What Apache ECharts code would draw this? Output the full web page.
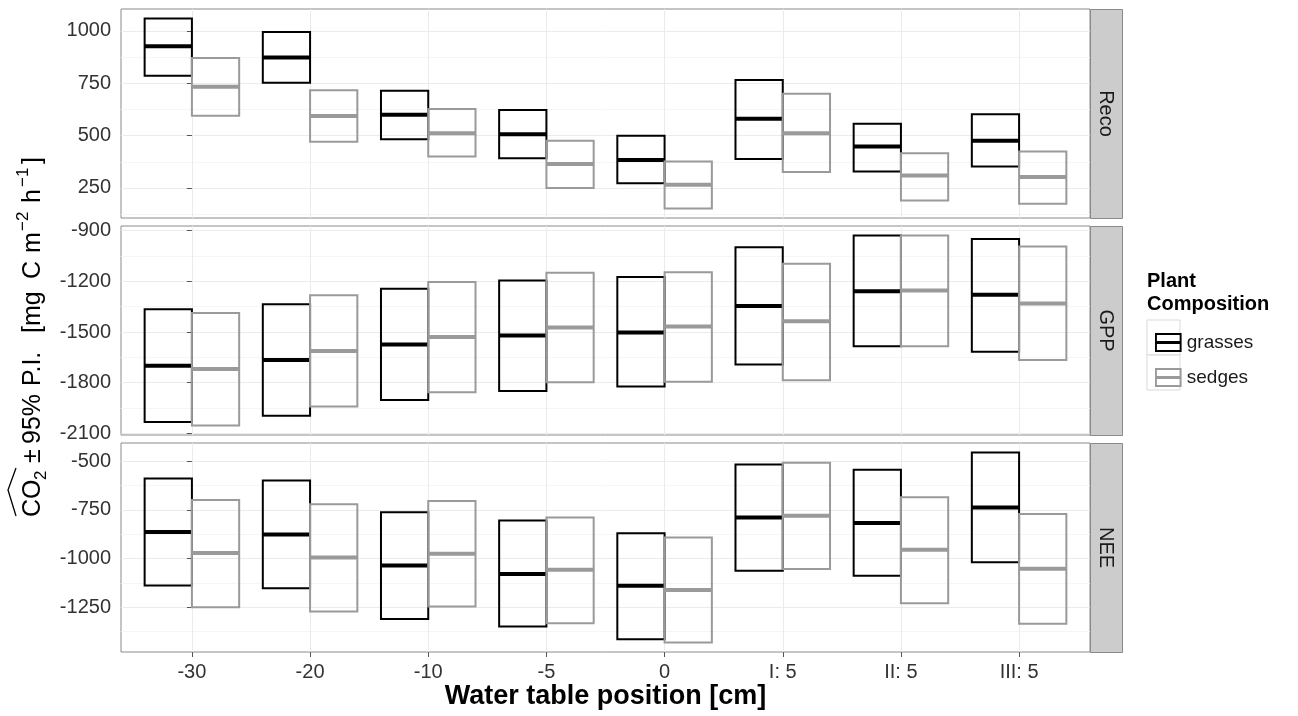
<!DOCTYPE html>
<html>
<head>
<meta charset="utf-8">
<title>CO2 fluxes by water table position</title>
<script src="https://cdn.jsdelivr.net/npm/echarts@6.0.0/dist/echarts.min.js"></script>
<style>
  html, body { margin: 0; padding: 0; background: #ffffff; }
  #chart { width: 1298px; height: 716px; }
</style>
</head>
<body>
<div id="chart"></div>
<script>
// Water table treatments along the x axis
const categories = ['-30', '-20', '-10', '-5', '0', 'I: 5', 'II: 5', 'III: 5'];
const groups = ['grasses', 'sedges'];
const facets = ['Reco', 'GPP', 'NEE'];

// Reco: estimate with lower / upper 95% prediction interval
const recoGrassesLower = [786, 752, 483, 392, 273, 388, 329, 352];
const recoGrassesEstimate = [927, 873, 599, 507, 384, 580, 448, 476];
const recoGrassesUpper = [1059, 995, 714, 622, 499, 765, 556, 602];
const recoSedgesLower = [595, 471, 400, 250, 152, 326, 190, 175];
const recoSedgesEstimate = [733, 594, 511, 364, 265, 511, 310, 302];
const recoSedgesUpper = [871, 716, 627, 476, 376, 700, 416, 424];

// GPP
const gppGrassesLower = [-2033, -1996, -1902, -1849, -1823, -1692, -1584, -1617];
const gppGrassesEstimate = [-1700, -1666, -1574, -1521, -1503, -1346, -1259, -1279];
const gppGrassesUpper = [-1366, -1336, -1244, -1195, -1175, -998, -929, -949];
const gppSedgesLower = [-2053, -1941, -1857, -1797, -1794, -1786, -1584, -1666];
const gppSedgesEstimate = [-1719, -1613, -1529, -1473, -1468, -1436, -1254, -1332];
const gppSedgesUpper = [-1387, -1283, -1204, -1149, -1146, -1096, -929, -994];

// NEE
const neeGrassesLower = [-1139, -1152, -1311, -1349, -1414, -1063, -1089, -1019];
const neeGrassesEstimate = [-864, -877, -1036, -1080, -1140, -790, -818, -738];
const neeGrassesUpper = [-589, -600, -762, -805, -870, -517, -545, -456];
const neeSedgesLower = [-1250, -1272, -1246, -1332, -1431, -1054, -1229, -1335];
const neeSedgesEstimate = [-972, -995, -976, -1058, -1162, -781, -955, -1053];
const neeSedgesUpper = [-700, -721, -705, -790, -892, -509, -685, -771];

// Tick labels of each facet (major) and the light lines between them (minor)
const recoTicks = [250, 500, 750, 1000];
const recoMinor = [125, 375, 625, 875];
const gppTicks = [-2100, -1800, -1500, -1200, -900];
const gppMinor = [-1950, -1650, -1350, -1050];
const neeTicks = [-1250, -1000, -750, -500];
const neeMinor = [-1375, -1125, -875, -625];

// ---- assembly ----
const FONT = '"Liberation Sans", Arial, Helvetica, sans-serif';
const PANEL_LEFT = 121, PANEL_W = 969, PANEL_H = 209;
const PANEL_TOPS = [9, 226, 443];
const STRIP_W = 32;
const COLORS = { grasses: '#000000', sedges: '#9a9a9a' };
const OFFSETS = { grasses: -0.2, sedges: 0.2 };
const HALF_W = 0.2;

const facetData = [
  { grasses: [recoGrassesLower, recoGrassesEstimate, recoGrassesUpper],
    sedges: [recoSedgesLower, recoSedgesEstimate, recoSedgesUpper],
    ticks: recoTicks, minor: recoMinor },
  { grasses: [gppGrassesLower, gppGrassesEstimate, gppGrassesUpper],
    sedges: [gppSedgesLower, gppSedgesEstimate, gppSedgesUpper],
    ticks: gppTicks, minor: gppMinor },
  { grasses: [neeGrassesLower, neeGrassesEstimate, neeGrassesUpper],
    sedges: [neeSedgesLower, neeSedgesEstimate, neeSedgesUpper],
    ticks: neeTicks, minor: neeMinor }
];

// Free y scale per facet, padded by 5% of the data range on both ends
function paddedRange(fd) {
  const all = [].concat(fd.grasses[0], fd.grasses[2], fd.sedges[0], fd.sedges[2]);
  const lo = Math.min.apply(null, all), hi = Math.max.apply(null, all);
  const pad = (hi - lo) * 0.05;
  return [lo - pad, hi + pad];
}

function crossbar(group) {
  const off = OFFSETS[group];
  const color = COLORS[group];
  return function (params, api) {
    const x = api.value(0) + off;
    const bl = api.coord([x - HALF_W, api.value(1)]);
    const tr = api.coord([x + HALF_W, api.value(3)]);
    const m0 = api.coord([x - HALF_W, api.value(2)]);
    const m1 = api.coord([x + HALF_W, api.value(2)]);
    return {
      type: 'group',
      children: [
        { type: 'rect',
          shape: { x: bl[0], y: tr[1], width: tr[0] - bl[0], height: bl[1] - tr[1] },
          style: { fill: 'none', stroke: color, lineWidth: 2 } },
        { type: 'line',
          shape: { x1: m0[0], y1: m0[1], x2: m1[0], y2: m1[1] },
          style: { stroke: color, lineWidth: 4 } }
      ]
    };
  };
}

const grids = [], xAxes = [], yAxes = [], series = [], graphics = [];
const catIdx = categories.map(function (c, i) { return i; });

facetData.forEach(function (fd, f) {
  const range = paddedRange(fd);
  const bottom = f === facetData.length - 1;
  grids.push({
    left: PANEL_LEFT, top: PANEL_TOPS[f], width: PANEL_W, height: PANEL_H,
    show: true, borderColor: '#8a8a8a', borderWidth: 1, backgroundColor: '#ffffff'
  });
  xAxes.push({
    type: 'value', gridIndex: f, min: -0.6, max: categories.length - 0.4,
    axisLine: { show: false },
    axisTick: { show: bottom, customValues: catIdx, length: 5, lineStyle: { color: '#555555' } },
    axisLabel: {
      show: bottom, customValues: catIdx, margin: 10,
      fontSize: 20, fontFamily: FONT, color: '#333333',
      formatter: function (v) { return categories[Math.round(v)]; }
    },
    splitLine: { show: true, lineStyle: { color: '#ebebeb', width: 1 } },
    name: bottom ? 'Water table position [cm]' : '',
    nameLocation: 'middle', nameGap: 30,
    nameTextStyle: { fontSize: 27, fontWeight: 'bold', fontFamily: FONT, color: '#000000' }
  });
  // major ticks, labels and grid lines
  yAxes.push({
    type: 'value', gridIndex: f, min: range[0], max: range[1],
    axisLine: { show: false },
    axisTick: { show: true, customValues: fd.ticks, length: 5, lineStyle: { color: '#555555' } },
    axisLabel: {
      show: true, customValues: fd.ticks, margin: 10, fontSize: 20, fontFamily: FONT, color: '#333333',
      formatter: function (v) { return String(Math.round(v)); }
    },
    splitLine: { show: true, lineStyle: { color: '#ebebeb', width: 1 } },
    z: 1
  });
  // minor grid lines
  yAxes.push({
    type: 'value', gridIndex: f, min: range[0], max: range[1],
    axisLine: { show: false },
    axisTick: { show: false, customValues: fd.minor },
    axisLabel: { show: false },
    splitLine: { show: true, lineStyle: { color: '#f6f6f6', width: 1 } },
    z: 0
  });
  groups.forEach(function (g) {
    const arr = fd[g];
    series.push({
      type: 'custom', name: g, xAxisIndex: f, yAxisIndex: 2 * f,
      itemStyle: { color: COLORS[g] },
      encode: { x: 0, y: [1, 2, 3] },
      renderItem: crossbar(g),
      data: categories.map(function (c, i) { return [i, arr[0][i], arr[1][i], arr[2][i]]; }),
      z: g === 'grasses' ? 2 : 3
    });
  });
  // facet strip on the right
  graphics.push({
    type: 'rect', left: PANEL_LEFT + PANEL_W, top: PANEL_TOPS[f],
    shape: { width: STRIP_W, height: PANEL_H },
    style: { fill: '#cccccc', stroke: '#8a8a8a', lineWidth: 1 }
  });
  graphics.push({
    type: 'text', x: PANEL_LEFT + PANEL_W + STRIP_W / 2, y: PANEL_TOPS[f] + PANEL_H / 2,
    rotation: -Math.PI / 2,
    style: { text: facets[f], fill: '#1a1a1a', font: '20px ' + FONT, align: 'center', verticalAlign: 'middle' }
  });
});

// y axis title, written along the rotated baseline: hat over CO2, interval, units
const TITLE_MAIN = '25px ' + FONT;
const TITLE_SMALL = '17px ' + FONT;
const titlePieces = [
  { t: 'CO', x: 0, y: 0, font: TITLE_MAIN },
  { t: '2', x: 37, y: 8, font: TITLE_SMALL },
  { t: '±', x: 54, y: 0, font: TITLE_MAIN },
  { t: '95%', x: 73, y: 0, font: TITLE_MAIN },
  { t: 'P.I.', x: 131, y: 0, font: TITLE_MAIN },
  { t: '[mg', x: 184, y: 0, font: TITLE_MAIN },
  { t: 'C', x: 238, y: 0, font: TITLE_MAIN },
  { t: 'm', x: 264, y: 0, font: TITLE_MAIN },
  { t: '−2', x: 286, y: -10, font: TITLE_SMALL },
  { t: 'h', x: 314, y: 0, font: TITLE_MAIN },
  { t: '−1', x: 330, y: -10, font: TITLE_SMALL },
  { t: ']', x: 353, y: 0, font: TITLE_MAIN }
];
graphics.push({
  type: 'group', x: 33, y: 517, rotation: Math.PI / 2,
  children: titlePieces.map(function (p) {
    return { type: 'text', x: p.x, y: p.y,
      style: { text: p.t, font: p.font, fill: '#000000', align: 'left', verticalAlign: 'middle' } };
  }).concat([{ type: 'polyline',
    shape: { points: [[1, -17], [27, -25], [49, -17]] },
    style: { stroke: '#000000', lineWidth: 1.3, fill: 'none' } }])
});

// legend title and key backgrounds
graphics.push({
  type: 'text', x: 1147, y: 270,
  style: { text: 'Plant\nComposition', fill: '#000000', font: 'bold 20px ' + FONT, lineHeight: 23 }
});
graphics.push({
  type: 'rect', x: 1147, y: 320, z: -1,
  shape: { width: 33, height: 35 }, style: { fill: '#ffffff', stroke: '#d9d9d9', lineWidth: 1 }
});
graphics.push({
  type: 'rect', x: 1147, y: 355, z: -1,
  shape: { width: 33, height: 35 }, style: { fill: '#ffffff', stroke: '#d9d9d9', lineWidth: 1 }
});

// crossbar glyph: outline with a thicker middle bar (holes wound the other way)
const CROSSBAR_ICON = 'path://M0,0 H28 V20 H0 Z M2,2 V8.5 H26 V2 Z M2,11.5 V18 H26 V11.5 Z';

const option = {
  animation: false,
  backgroundColor: '#ffffff',
  textStyle: { fontFamily: FONT },
  grid: grids,
  xAxis: xAxes,
  yAxis: yAxes,
  series: series,
  legend: {
    data: groups.map(function (g) { return { name: g, icon: CROSSBAR_ICON }; }),
    orient: 'vertical', left: 1150, top: 328,
    itemWidth: 27, itemHeight: 19, itemGap: 16,
    selectedMode: false,
    textStyle: { fontSize: 19, color: '#1a1a1a', fontFamily: FONT, padding: [0, 0, 0, 0] }
  },
  graphic: graphics
};

const chart = echarts.init(document.getElementById('chart'), null, { renderer: 'canvas' });
chart.setOption(option);
</script>
</body>
</html>
